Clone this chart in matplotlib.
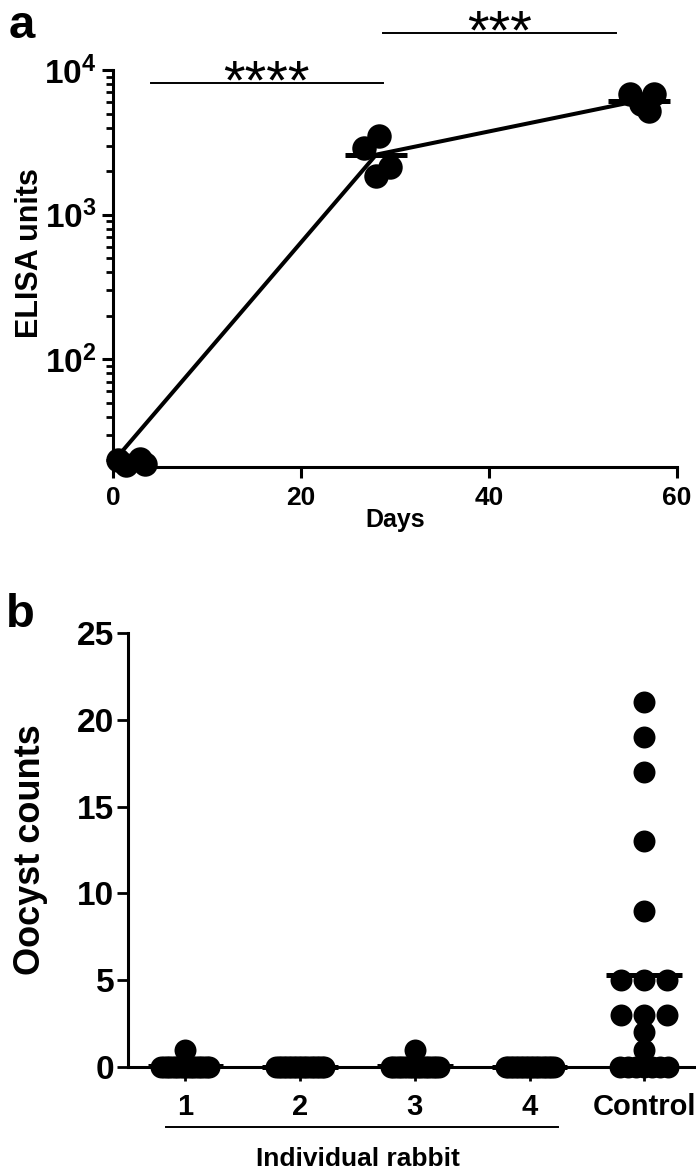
import matplotlib
matplotlib.use('Agg')
import matplotlib.pyplot as plt
import numpy as np
from matplotlib import transforms
from matplotlib.ticker import FixedLocator, LogLocator, NullFormatter

plt.rcParams['font.family'] = ['Liberation Sans', 'DejaVu Sans']
plt.rcParams['font.weight'] = 'bold'
plt.rcParams['mathtext.fontset'] = 'custom'
plt.rcParams['mathtext.rm'] = 'Liberation Sans:bold'
plt.rcParams['mathtext.bf'] = 'Liberation Sans:bold'
plt.rcParams['mathtext.default'] = 'bf'

# panel a: ELISA units per bleed day (x = day as plotted, y = units)
days = [0, 28, 56]
day0_x = [0.5, 1.4, 2.9, 3.4]
day0_y = [20, 18.5, 20.5, 19]
day28_x = [28.3, 26.7, 29.5, 28.0]
day28_y = [3500, 2900, 2150, 1850]
day56_x = [55.0, 57.5, 56.2, 57.0]
day56_y = [6800, 6800, 5800, 5200]
sig_labels = ['****', '***']

# panel b: oocyst counts
groups = ['1', '2', '3', '4', 'Control']
rabbit1 = [0] * 19 + [1]
rabbit2 = [0] * 20
rabbit3 = [0] * 19 + [1]
rabbit4 = [0] * 20
control = [21, 19, 17, 13, 9, 5, 5, 5, 3, 3, 3, 2, 1, 0, 0, 0, 0, 0, 0, 0]


def row_offsets(vals, step, wmax):
    # spread equal values sideways, squeeze rows that get too wide
    vals = np.asarray(vals)
    off = np.zeros(len(vals))
    for v in np.unique(vals):
        idx = np.where(vals == v)[0]
        n = len(idx)
        if n > 1:
            w = min((n - 1) * step / 2, wmax)
            off[idx] = np.linspace(-w, w, n)
    return off


fig = plt.figure(figsize=(6.96, 11.71), dpi=100)
axA = fig.add_axes([113 / 696, 1 - 467 / 1171, 564 / 696, 397 / 1171])
axB = fig.add_axes([128 / 696, 1 - 1067 / 1171, 568 / 696, 434 / 1171])

# ---- panel a
axA.set_yscale('log')
means = [np.mean(day0_y), np.mean(day28_y), np.mean(day56_y)]
axA.plot(days, means, color='k', lw=2.9, zorder=2)
for xs, ys in [(day0_x, day0_y), (day28_x, day28_y), (day56_x, day56_y)]:
    axA.scatter(xs, ys, s=310, color='k', zorder=3, clip_on=False, linewidths=0)
for d, m in zip(days, means):
    axA.plot([d - 3.3, d + 3.3], [m, m], color='k', lw=3.6, solid_capstyle='butt', zorder=4)
axA.set_xlim(0, 60)
axA.set_ylim(18, 1e4)
axA.set_xticks([0, 20, 40, 60])
axA.yaxis.set_major_locator(FixedLocator([1e2, 1e3, 1e4]))
axA.set_yticklabels(['$10^{2}$', '$10^{3}$', '$10^{4}$'])
axA.yaxis.set_minor_locator(LogLocator(base=10, subs=range(2, 10)))
axA.yaxis.set_minor_formatter(NullFormatter())
axA.tick_params(axis='both', which='major', length=8, width=2.2)
axA.tick_params(axis='y', which='minor', length=5, width=2)
axA.tick_params(axis='x', labelsize=19, pad=6)
axA.tick_params(axis='y', labelsize=24, pad=4)
for s in ['top', 'right']:
    axA.spines[s].set_visible(False)
for s in ['left', 'bottom']:
    axA.spines[s].set_linewidth(2.2)
axA.set_xlabel('Days', fontsize=18, fontweight='bold', labelpad=-2)
axA.set_ylabel('ELISA units', fontsize=22, fontweight='bold')
axA.yaxis.set_label_coords(-0.12, 0.54)

# significance bars
star_tr = transforms.offset_copy(axA.transData, fig=fig, y=-11, units='points')
for (x0, x1), yv, lab in zip([(4, 28.7), (28.7, 53.5)], [8100, 18000], sig_labels):
    axA.plot([x0, x1], [yv, yv], color='k', lw=1.4, clip_on=False)
    axA.text((x0 + x1) / 2, yv, lab, ha='center', va='baseline', fontsize=40,
             fontweight='normal', transform=star_tr)

# ---- panel b
pos = np.arange(1, len(groups) + 1)
for p, vals in zip(pos, [rabbit1, rabbit2, rabbit3, rabbit4, control]):
    off = row_offsets(vals, 0.2, 0.21)
    axB.scatter(p + off, vals, s=250, color='k', zorder=3, clip_on=False, linewidths=0)
    m = np.mean(vals)
    axB.plot([p - 0.33, p + 0.33], [m, m], color='k', lw=3.6, solid_capstyle='butt',
             zorder=4, clip_on=False)
axB.set_xlim(0.5, 5.45)
axB.set_ylim(0, 25)
axB.set_yticks([0, 5, 10, 15, 20, 25])
axB.set_xticks(pos)
axB.set_xticklabels(groups)
axB.tick_params(axis='both', length=8, width=2)
axB.tick_params(axis='x', length=10, labelsize=21, pad=9)
axB.tick_params(axis='y', labelsize=24, pad=2)
for s in ['top', 'right']:
    axB.spines[s].set_visible(False)
for s in ['left', 'bottom']:
    axB.spines[s].set_linewidth(2.2)
axB.set_ylabel('Oocyst counts', fontsize=26, fontweight='bold')
axB.yaxis.set_label_coords(-0.14, 0.5)

trB = transforms.blended_transform_factory(axB.transData, axB.transAxes)
axB.plot([0.83, 4.25], [-0.138, -0.138], color='k', lw=1.4, transform=trB, clip_on=False)
axB.text(2.5, -0.212, 'Individual rabbit', ha='center', va='center', fontsize=19,
         fontweight='bold', transform=trB)

# panel letters
fig.text(0.012, 0.997, 'a', fontsize=34, fontweight='bold', va='top')
fig.text(0.008, 0.494, 'b', fontsize=34, fontweight='bold', va='top')

fig.savefig('out.png', dpi=100)
